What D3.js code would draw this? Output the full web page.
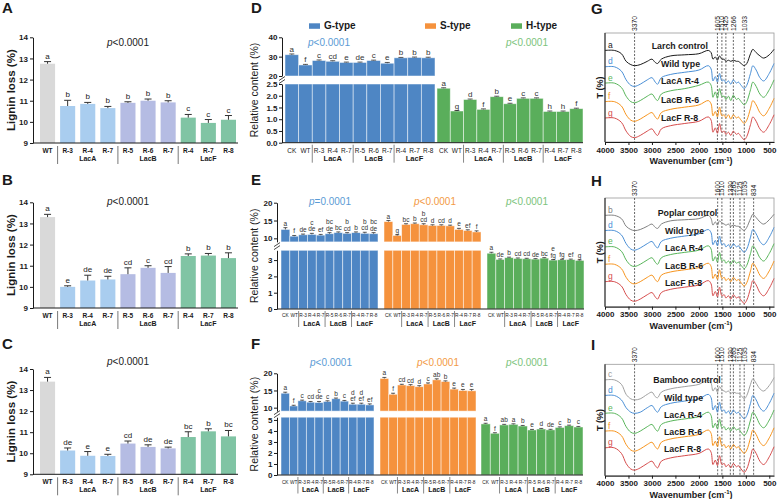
<!DOCTYPE html>
<html>
<head>
<meta charset="utf-8">
<script src="https://cdn.jsdelivr.net/npm/d3@7"></script>
<style>
  body { margin: 0; background: #fff; }
  svg { display: block; font-family: "Liberation Sans", Arial, sans-serif; }
</style>
</head>
<body>
<script>
// ---------------- Data ----------------

// A-C: lignin loss
const lossLabels = ["WT", "R-3", "R-4", "R-7", "R-5", "R-6", "R-7", "R-4", "R-7", "R-8"];
const lossGroups = ["WT", "LacA", "LacA", "LacA", "LacB", "LacB", "LacB", "LacF", "LacF", "LacF"];
const larchLoss = [12.75, 10.75, 10.85, 10.65, 10.9, 11.0, 10.92, 10.2, 9.95, 10.1];
const larchErr = [0.1, 0.27, 0.07, 0.08, 0.05, 0.08, 0.08, 0.15, 0.16, 0.2];
const larchLet = ["a", "b", "b", "b", "b", "b", "b", "c", "c", "c"];
const poplarLoss = [13.3, 10.0, 10.3, 10.35, 10.6, 10.9, 10.66, 11.46, 11.48, 11.36];
const poplarErr = [0.13, 0.05, 0.25, 0.15, 0.3, 0.1, 0.3, 0.1, 0.1, 0.25];
const poplarLet = ["a", "e", "de", "de", "cd", "c", "cd", "b", "b", "b"];
const bambooLoss = [13.4, 10.13, 9.88, 9.87, 10.46, 10.3, 10.23, 10.77, 11.04, 10.8];
const bambooErr = [0.2, 0.12, 0.2, 0.08, 0.12, 0.1, 0.06, 0.25, 0.12, 0.28];
const bambooLet = ["a", "de", "e", "e", "cd", "de", "de", "bc", "b", "bc"];

// D-F: relative content of G/S/H units
const compLabels = ["CK", "WT", "R-3", "R-4", "R-7", "R-5", "R-6", "R-7", "R-4", "R-7", "R-8"];
const compGroups = ["CK", "WT", "LacA", "LacA", "LacA", "LacB", "LacB", "LacB", "LacF", "LacF", "LacF"];

const larchG = [31.0, 25.7, 28.0, 27.6, 27.0, 27.0, 28.0, 26.6, 29.4, 29.6, 29.4];
const larchGErr = [0.4, 0.3, 0.3, 0.3, 0.2, 0.2, 0.2, 0.4, 0.2, 0.2, 0.3];
const larchGLet = ["a", "f", "c", "cd", "e", "de", "c", "e", "b", "b", "b"];
const larchH = [2.32, 1.35, 1.84, 1.42, 1.96, 1.66, 1.89, 1.89, 1.33, 1.33, 1.45];
const larchHErr = [0.02, 0.02, 0.02, 0.02, 0.02, 0.02, 0.02, 0.02, 0.02, 0.02, 0.02];
const larchHLet = ["a", "g", "d", "f", "b", "e", "c", "c", "h", "h", "f"];

const poplarG = [12.5, 10.6, 11.0, 11.1, 10.9, 11.3, 11.6, 11.4, 11.6, 11.4, 11.3];
const poplarGErr = [0.5, 0.2, 0.2, 0.3, 0.2, 0.3, 0.2, 0.2, 0.2, 0.3, 0.3];
const poplarGLet = ["a", "f", "de", "c\nde", "ef", "bc\nde", "bc", "b\ncd", "b", "b\ncd", "bc\nde"];
const poplarS = [14.7, 10.8, 13.9, 14.1, 13.8, 13.6, 13.6, 13.5, 12.5, 12.2, 11.8];
const poplarSErr = [0.3, 0.2, 0.2, 0.2, 0.3, 0.2, 0.2, 0.2, 0.3, 0.2, 0.3];
const poplarSLet = ["a", "g", "bc", "b", "b\ncd", "d", "cd", "d", "e", "ef", "f"];
const poplarH = [3.42, 3.04, 3.15, 3.1, 3.08, 3.06, 3.12, 3.0, 3.02, 3.03, 2.98];
const poplarHErr = [0.06, 0.03, 0.03, 0.03, 0.03, 0.03, 0.03, 0.03, 0.03, 0.03, 0.03];
const poplarHLet = ["a", "de", "b", "cd", "cd", "de", "bc", "e\nfg", "fg", "ef", "g"];

const bambooG = [14.2, 10.5, 12.0, 11.6, 11.5, 11.8, 12.6, 11.9, 11.0, 11.0, 10.8];
const bambooGErr = [0.3, 0.2, 0.2, 0.2, 0.3, 0.2, 0.2, 0.2, 0.3, 0.3, 0.3];
const bambooGLet = ["a", "f", "c", "cd", "c\nde", "c", "b", "c", "d\nef", "d\nef", "ef"];
const bambooS = [18.5, 13.9, 16.6, 16.4, 16.1, 16.9, 18.1, 17.6, 15.4, 15.0, 14.9];
const bambooSErr = [0.3, 0.3, 0.2, 0.3, 0.3, 0.3, 0.3, 0.2, 0.3, 0.3, 0.4];
const bambooSLet = ["a", "f", "cd", "cd", "d", "c", "ab", "b", "e", "e", "e"];
const bambooH = [4.64, 3.79, 4.55, 4.6, 4.45, 4.09, 4.18, 4.1, 4.32, 4.48, 4.36];
const bambooHErr = [0.06, 0.05, 0.05, 0.05, 0.05, 0.05, 0.05, 0.05, 0.05, 0.05, 0.05];
const bambooHLet = ["a", "f", "ab", "a", "b", "e", "d", "de", "c", "b", "c"];

// G-I: FTIR spectra
const waveNums = [4000, 3800, 3650, 3550, 3450, 3370, 3250, 3100, 3000, 2930, 2880, 2800, 2600, 2300, 2000, 1800, 1740, 1700, 1650, 1605, 1560, 1510, 1460, 1425, 1370, 1320, 1266, 1200, 1160, 1100, 1033, 980, 900, 850, 780, 700, 620, 500, 400];
const waveTicks = [4000, 3500, 3000, 2500, 2000, 1500, 1000, 500];

const larchCtrl = [84, 84, 81, 74, 71, 70, 71, 74, 76, 73, 72, 76, 79, 80, 81, 84, 82, 76, 78, 75, 79, 76, 76, 74, 75, 74, 75, 74, 74, 72, 70, 72, 81, 85, 82, 79, 77, 80, 85];
const larchWT = [69, 69, 65, 57, 52, 51, 53, 57, 59, 55, 53, 59, 62, 64, 66, 70, 67, 56, 60, 55, 63, 56, 57, 54, 56, 53, 57, 54, 55, 52, 49, 52, 63, 70, 66, 59, 56, 63, 72];
const larchA4 = [54, 54, 50, 42, 37, 36, 38, 42, 44, 40, 38, 44, 47, 49, 52, 55, 52, 41, 46, 40, 49, 42, 42, 39, 42, 38, 43, 39, 40, 37, 34, 37, 48, 55, 51, 44, 41, 48, 57];
const larchB6 = [37, 37, 33, 25, 20, 19, 21, 25, 27, 23, 21, 27, 30, 32, 34, 38, 35, 24, 28, 23, 32, 24, 25, 22, 25, 21, 25, 22, 23, 20, 17, 20, 31, 38, 34, 27, 24, 31, 40];
const larchF8 = [22, 22, 18, 10, 5, 4, 6, 10, 12, 8, 6, 12, 15, 17, 19, 23, 20, 9, 13, 8, 17, 9, 10, 7, 9, 6, 10, 7, 8, 5, 2, 5, 16, 23, 19, 12, 9, 16, 25];

const poplarCtrl = [84, 84, 81, 74, 71, 70, 71, 74, 76, 73, 72, 76, 79, 80, 81, 84, 81, 75, 78, 75, 79, 77, 76, 75, 76, 74, 75, 74, 74, 72, 70, 73, 81, 85, 82, 78, 76, 80, 85];
const poplarWT = [70, 70, 66, 58, 53, 52, 54, 58, 60, 56, 54, 60, 63, 65, 67, 71, 68, 57, 61, 56, 65, 57, 58, 55, 57, 54, 58, 55, 56, 53, 50, 53, 64, 71, 67, 60, 57, 64, 73];
const poplarA4 = [55, 55, 51, 43, 38, 37, 39, 43, 45, 41, 39, 45, 48, 50, 52, 56, 53, 42, 46, 41, 50, 42, 43, 40, 42, 39, 43, 40, 41, 38, 35, 38, 49, 56, 52, 45, 42, 49, 58];
const poplarB6 = [39, 39, 35, 27, 22, 21, 23, 27, 29, 25, 23, 29, 32, 34, 36, 40, 37, 26, 30, 25, 34, 26, 27, 24, 26, 23, 27, 24, 25, 22, 19, 22, 33, 40, 36, 29, 26, 33, 42];
const poplarF8 = [23, 23, 19, 11, 6, 5, 7, 11, 13, 9, 7, 13, 16, 18, 20, 24, 21, 10, 14, 9, 18, 10, 11, 8, 10, 7, 11, 8, 9, 6, 3, 6, 17, 24, 20, 13, 10, 17, 26];

const bambooCtrl = [86, 86, 82, 73, 69, 68, 69, 73, 75, 71, 70, 75, 78, 80, 82, 86, 83, 76, 79, 75, 80, 77, 76, 75, 76, 74, 75, 74, 74, 72, 69, 72, 82, 87, 83, 78, 76, 81, 88];
const bambooWT = [72, 72, 68, 61, 57, 56, 57, 61, 63, 59, 57, 62, 65, 67, 69, 73, 70, 59, 63, 57, 66, 58, 59, 56, 58, 55, 59, 56, 57, 54, 51, 54, 65, 72, 68, 61, 58, 65, 74];
const bambooA4 = [56, 56, 52, 44, 39, 38, 40, 44, 46, 42, 40, 46, 49, 51, 53, 57, 54, 43, 47, 42, 51, 43, 44, 41, 43, 40, 44, 41, 42, 39, 36, 39, 50, 57, 53, 46, 43, 50, 59];
const bambooB6 = [40, 40, 36, 28, 23, 22, 24, 28, 30, 26, 24, 30, 33, 35, 37, 41, 38, 27, 31, 26, 35, 27, 28, 25, 27, 24, 28, 25, 26, 23, 20, 23, 34, 41, 37, 30, 27, 34, 43];
const bambooF8 = [25, 25, 20, 11, 6, 5, 7, 11, 13, 9, 7, 13, 16, 18, 20, 24, 21, 10, 14, 9, 18, 10, 11, 8, 10, 7, 11, 8, 9, 6, 3, 6, 17, 24, 20, 13, 10, 17, 26];

const larchBands = [3370, 1605, 1510, 1425, 1266, 1033];
const hardwoodBands = [3370, 1600, 1510, 1330, 1265, 1125, 1035, 834];
const specNames = ["Wild type", "LacA R-4", "LacB R-6", "LacF R-8"];
const specLetters = ["d", "e", "f", "g"];

// ---------------- Setup ----------------

const ink = "#1a1a1a";
const blue = "#4e86c4", orange = "#f5923d", green = "#5aae5b";
const lossFill = { WT: "#d9d9d9", LacA: "#a9cdef", LacB: "#b5bce3", LacF: "#80c4a4" };

const svg = d3.select("body").append("svg")
    .attr("width", 777)
    .attr("height", 499);

const panelLetter = (t, x, y) => svg.append("text")
    .attr("x", x).attr("y", y)
    .attr("font-size", 15).attr("font-weight", "bold").attr("fill", ink)
    .text(t);

const pText = (g, x, y, str, color, size) => {
    const t = g.append("text").attr("x", x).attr("y", y)
        .attr("text-anchor", "middle").attr("font-size", size).attr("fill", color);
    t.append("tspan").attr("font-style", "italic").text(str[0]);
    t.append("tspan").text(str.slice(1));
};

const styleAxis = (ax, fs) => {
    ax.attr("font-family", null).attr("font-size", null);
    ax.selectAll("text").attr("font-size", fs).attr("font-weight", "bold").attr("fill", ink);
    ax.selectAll("line,path").attr("stroke", ink);
};

// ---------------- A-C: lignin loss ----------------

function lossPanel(vals, errs, lets, yTop, yBot, pY) {
    const g = svg.append("g");
    const x = d3.scaleBand().domain(d3.range(vals.length)).range([38, 238]).paddingInner(0.25).paddingOuter(0.1);
    const y = d3.scaleLinear().domain([9, 14]).range([yBot, yTop]);
    const bw = x.bandwidth();
    const cx = i => x(i) + bw / 2;

    g.selectAll("rect").data(vals).join("rect")
        .attr("x", (d, i) => x(i)).attr("width", bw)
        .attr("y", d => y(d)).attr("height", d => y(9) - y(d))
        .attr("fill", (d, i) => lossFill[lossGroups[i]]);

    g.selectAll(".eb").data(vals).join("path").attr("class", "eb")
        .attr("d", (d, i) => `M${cx(i)},${y(d)}V${y(d + errs[i])}M${cx(i) - 3.5},${y(d + errs[i])}H${cx(i) + 3.5}`)
        .attr("stroke", "#333").attr("fill", "none");

    g.selectAll(".let").data(lets).join("text").attr("class", "let")
        .attr("x", (d, i) => cx(i)).attr("y", (d, i) => y(vals[i] + errs[i]) - 3)
        .attr("text-anchor", "middle").attr("font-size", 8).attr("fill", ink)
        .text(d => d);

    const ax = g.append("g").attr("transform", "translate(33,0)")
        .call(d3.axisLeft(y).ticks(5).tickSize(3).tickSizeOuter(0).tickPadding(2));
    styleAxis(ax, 8);

    const y0 = y(9);
    g.append("line").attr("x1", 33).attr("x2", 238).attr("y1", y0).attr("y2", y0).attr("stroke", ink);

    g.selectAll(".cat").data(lossLabels).join("text").attr("class", "cat")
        .attr("x", (d, i) => cx(i)).attr("y", y0 + 9.5)
        .attr("text-anchor", "middle").attr("font-size", 6.5).attr("font-weight", "bold").attr("fill", ink)
        .text(d => d);

    const groups = ["LacA", "LacB", "LacF"];
    groups.forEach(gr => {
        const idx = d3.range(vals.length).filter(i => lossGroups[i] === gr);
        g.append("text").attr("x", d3.mean(idx, cx)).attr("y", y0 + 18)
            .attr("text-anchor", "middle").attr("font-size", 7).attr("font-weight", "bold").attr("fill", ink)
            .text(gr);
        const sx = x(idx[0]) - x.step() * 0.125;
        g.append("line").attr("x1", sx).attr("x2", sx).attr("y1", y0 + 3).attr("y2", y0 + 21)
            .attr("stroke", "#555").attr("stroke-width", 0.8);
    });

    pText(g, 128, pY, "p<0.0001", ink, 10);

    g.append("text")
        .attr("transform", `translate(14.5,${(yTop + yBot) / 2}) rotate(-90)`)
        .attr("text-anchor", "middle").attr("font-size", 11.5).attr("font-weight", "bold").attr("fill", ink)
        .text("Lignin loss (%)");
}

panelLetter("A", 2, 13);
lossPanel(larchLoss, larchErr, larchLet, 37.3, 143, 46);
panelLetter("B", 2, 185);
lossPanel(poplarLoss, poplarErr, poplarLet, 202.3, 308, 205);
panelLetter("C", 2, 349);
lossPanel(bambooLoss, bambooErr, bambooLet, 369, 474.3, 365);

// ---------------- D-F: relative content ----------------

function compPanel(o) {
    const g = svg.append("g");
    const yu = d3.scaleLinear().domain(o.up.dom).range(o.up.rng);
    const yl = d3.scaleLinear().domain(o.lo.dom).range(o.lo.rng);
    const lmax = o.lo.dom[1], umin = o.up.dom[0];
    const y0 = yl(0);
    let lastX = 0;

    o.series.forEach(s => {
        const x = d3.scaleBand().domain(d3.range(s.v.length)).range([s.x0, s.x1]);
        const bw = x.bandwidth();
        const cx = i => x(i) + bw / 2;
        lastX = s.x1;
        const sg = g.append("g");

        // lower segment
        sg.selectAll(".lo").data(s.v).join("rect").attr("class", "lo")
            .attr("x", (d, i) => x(i)).attr("width", bw)
            .attr("y", d => yl(Math.min(d, lmax))).attr("height", d => y0 - yl(Math.min(d, lmax)))
            .attr("fill", s.c).attr("stroke", "#fff").attr("stroke-opacity", 0.6).attr("stroke-width", 0.8);
        // upper segment
        sg.selectAll(".up").data(s.v.filter(d => d > lmax)).join("rect").attr("class", "up")
            .attr("x", (d, i) => x(i)).attr("width", bw)
            .attr("y", d => yu(d)).attr("height", d => yu(umin) - yu(d))
            .attr("fill", s.c).attr("stroke", "#fff").attr("stroke-opacity", 0.6).attr("stroke-width", 0.8);

        const ytop = (d, i) => d > lmax ? yu(d + s.e[i]) : yl(d + s.e[i]);
        const ybar = d => d > lmax ? yu(d) : yl(d);
        sg.selectAll(".eb").data(s.v).join("path").attr("class", "eb")
            .attr("d", (d, i) => `M${cx(i)},${ybar(d)}V${ytop(d, i)}M${cx(i) - o.cap},${ytop(d, i)}H${cx(i) + o.cap}`)
            .attr("stroke", "#333").attr("stroke-width", 0.8).attr("fill", "none");

        s.l.forEach((lt, i) => {
            const lines = lt.split("\n");
            lines.forEach((ln, k) => {
                sg.append("text").attr("x", cx(i))
                    .attr("y", ytop(s.v[i], i) - 2 - (lines.length - 1 - k) * o.letFs * 0.95)
                    .attr("text-anchor", "middle").attr("font-size", o.letFs).attr("fill", "#333")
                    .text(ln);
            });
        });

        sg.selectAll(".cat").data(compLabels).join("text").attr("class", "cat")
            .attr("x", (d, i) => cx(i)).attr("y", y0 + o.catDy)
            .attr("text-anchor", "middle").attr("font-size", o.catFs).attr("fill", ink)
            .text(d => d);

        ["LacA", "LacB", "LacF"].forEach(gr => {
            const idx = d3.range(s.v.length).filter(i => compGroups[i] === gr);
            sg.append("text").attr("x", d3.mean(idx, cx)).attr("y", y0 + o.grpDy)
                .attr("text-anchor", "middle").attr("font-size", o.grpFs).attr("font-weight", "bold").attr("fill", ink)
                .text(gr);
            sg.append("line").attr("x1", x(idx[0])).attr("x2", x(idx[0]))
                .attr("y1", y0 + 2).attr("y2", y0 + o.grpDy + 1.5)
                .attr("stroke", "#555").attr("stroke-width", 0.7);
        });

        pText(g, s.px, o.pY, "p" + s.p, s.pc, 10);
    });

    const axU = g.append("g").attr("transform", `translate(${o.axisX},0)`)
        .call(d3.axisLeft(yu).tickValues(o.up.ticks).tickSize(3).tickSizeOuter(0).tickPadding(1.5).tickFormat(o.up.fmt));
    styleAxis(axU, 8);
    const axL = g.append("g").attr("transform", `translate(${o.axisX},0)`)
        .call(d3.axisLeft(yl).tickValues(o.lo.ticks).tickSize(3).tickSizeOuter(0).tickPadding(1.5).tickFormat(o.lo.fmt));
    styleAxis(axL, 8);

    // break mark
    const yb = (yu(umin) + yl(lmax)) / 2;
    [-1.5, 1.5].forEach(dy => g.append("line")
        .attr("x1", o.axisX - 3).attr("x2", o.axisX + 3)
        .attr("y1", yb + dy + 2).attr("y2", yb + dy - 2)
        .attr("stroke", ink).attr("stroke-width", 0.8));

    g.append("line").attr("x1", o.axisX).attr("x2", lastX).attr("y1", y0).attr("y2", y0).attr("stroke", ink);

    g.append("text")
        .attr("transform", `translate(258,${(o.up.rng[1] + y0) / 2}) rotate(-90)`)
        .attr("text-anchor", "middle").attr("font-size", 10.5).attr("fill", ink)
        .text("Relative content (%)");
}

panelLetter("D", 251, 13);
compPanel({
    axisX: 282, cap: 2.5, letFs: 8, catFs: 6.5, grpFs: 7.5, catDy: 10, grpDy: 18.5, pY: 45.5,
    up: { dom: [20, 40], rng: [76, 37.3], ticks: [20, 30, 40], fmt: d3.format("d") },
    lo: { dom: [0, 2.5], rng: [142.7, 84], ticks: [0, 0.5, 1, 1.5, 2, 2.5], fmt: d3.format(".1f") },
    series: [
        { v: larchG, e: larchGErr, l: larchGLet, c: blue, x0: 285, x1: 435, p: "<0.0001", pc: "#5b9bd5", px: 329 },
        { v: larchH, e: larchHErr, l: larchHLet, c: green, x0: 437, x1: 583, p: "<0.0001", pc: "#7cc47c", px: 527 }
    ]
});

// legend
const legendItems = [["G-type", blue, 309], ["S-type", orange, 425], ["H-type", green, 511]];
legendItems.forEach(([name, col, lx]) => {
    svg.append("rect").attr("x", lx).attr("y", 23.3).attr("width", 11).attr("height", 5.5).attr("fill", col);
    svg.append("text").attr("x", lx + 15).attr("y", 29).attr("font-size", 10).attr("font-weight", "bold")
        .attr("fill", ink).text(name);
});

panelLetter("E", 251, 185);
compPanel({
    axisX: 277, cap: 2, letFs: 6.5, catFs: 4.8, grpFs: 7, catDy: 7.8, grpDy: 16.5, pY: 204.5,
    up: { dom: [9, 20], rng: [241.9, 202.7], ticks: [10, 15, 20], fmt: d3.format("d") },
    lo: { dom: [0, 3.6], rng: [309, 250.3], ticks: [0, 1, 2, 3], fmt: d3.format("d") },
    series: [
        { v: poplarG, e: poplarGErr, l: poplarGLet, c: blue, x0: 281, x1: 378, p: "=0.0001", pc: "#5b9bd5", px: 330 },
        { v: poplarS, e: poplarSErr, l: poplarSLet, c: orange, x0: 384, x1: 481, p: "<0.0001", pc: "#f39a45", px: 435 },
        { v: poplarH, e: poplarHErr, l: poplarHLet, c: green, x0: 487, x1: 584, p: "<0.0001", pc: "#7cc47c", px: 527 }
    ]
});

panelLetter("F", 251, 349);
compPanel({
    axisX: 277, cap: 2, letFs: 6.5, catFs: 4.8, grpFs: 7, catDy: 8.8, grpDy: 17, pY: 365.5,
    up: { dom: [9, 20], rng: [411.1, 373.3], ticks: [10, 15, 20], fmt: d3.format("d") },
    lo: { dom: [0, 5.25], rng: [475, 417.2], ticks: [0, 1, 2, 3, 4, 5], fmt: d3.format("d") },
    series: [
        { v: bambooG, e: bambooGErr, l: bambooGLet, c: blue, x0: 281, x1: 374, p: "<0.0001", pc: "#5b9bd5", px: 331 },
        { v: bambooS, e: bambooSErr, l: bambooSLet, c: orange, x0: 380, x1: 476, p: "<0.0001", pc: "#f39a45", px: 438 },
        { v: bambooH, e: bambooHErr, l: bambooHLet, c: green, x0: 481, x1: 583, p: "<0.0001", pc: "#7cc47c", px: 527 }
    ]
});

// ---------------- G-I: FTIR ----------------

const specColors = ["#4a8fd6", "#58b55a", "#f7941d", "#d64c4c"];

function specPanel(o) {
    const g = svg.append("g");
    const x = d3.scaleLinear().domain([4000, 400]).range([605, 774]);
    const y = d3.scaleLinear().domain([0, 100]).range([o.bot, o.top]);

    g.append("rect").attr("x", 605).attr("y", o.top).attr("width", 169).attr("height", o.bot - o.top)
        .attr("fill", "none").attr("stroke", "#9a9a9a").attr("stroke-width", 0.8);

    o.bands.forEach(b => {
        g.append("line").attr("x1", x(b)).attr("x2", x(b)).attr("y1", o.top).attr("y2", o.bot)
            .attr("stroke", "#222").attr("stroke-width", 0.7).attr("stroke-dasharray", "2,1.5");
        g.append("text").attr("transform", `translate(${x(b) + 2.4},${o.top - 2}) rotate(-90)`)
            .attr("font-size", 6.8).attr("fill", ink).text(b);
    });

    const line = d3.line().x((d, i) => x(waveNums[i])).y(d => y(d)).curve(d3.curveCatmullRom.alpha(0.5));
    o.curves.forEach((c, k) => {
        g.append("path").datum(c.v).attr("d", line)
            .attr("fill", "none").attr("stroke", c.col).attr("stroke-width", 1);
        g.append("text").attr("x", 608).attr("y", y(c.v[0]) - 2.5)
            .attr("font-size", 8.5).attr("fill", c.col).text(c.letter);
        g.append("text").attr("x", o.nameX[k]).attr("y", o.nameY[k])
            .attr("font-size", 8.8).attr("font-weight", "bold").attr("fill", ink).text(c.name);
    });

    const ax = g.append("g").attr("transform", `translate(0,${o.bot})`)
        .call(d3.axisBottom(x).tickValues(waveTicks).tickFormat(d3.format("d"))
            .tickSize(3).tickSizeOuter(0).tickPadding(2));
    styleAxis(ax, 8);
    g.append("line").attr("x1", 605).attr("x2", 605).attr("y1", o.top).attr("y2", o.bot).attr("stroke", ink);

    const t = g.append("text").attr("x", 691).attr("y", o.bot + 22)
        .attr("text-anchor", "middle").attr("font-size", 9).attr("font-weight", "bold").attr("fill", ink);
    t.append("tspan").text("Wavenumber (cm");
    t.append("tspan").attr("font-size", 6).attr("dy", -3.5).text("-1");
    t.append("tspan").attr("dy", 3.5).text(")");

    g.append("text")
        .attr("transform", `translate(602.5,${(o.top + o.bot) / 2}) rotate(-90)`)
        .attr("text-anchor", "middle").attr("font-size", 9).attr("font-weight", "bold").attr("fill", ink)
        .text("T (%)");
}

const mkCurves = (ctrlName, ctrlLetter, ctrlCol, arrs) =>
    [{ name: ctrlName, letter: ctrlLetter, col: ctrlCol, v: arrs[0] }]
        .concat(specNames.map((n, i) => ({ name: n, letter: specLetters[i], col: specColors[i], v: arrs[i + 1] })));

panelLetter("G", 591, 14);
specPanel({
    top: 33, bot: 142, bands: larchBands,
    curves: mkCurves("Larch control", "a", "#1a1a1a", [larchCtrl, larchWT, larchA4, larchB6, larchF8]),
    nameX: [651.7, 661, 661, 661, 661], nameY: [49, 66.8, 84.2, 102.8, 120.8]
});
panelLetter("H", 591, 185.5);
specPanel({
    top: 198, bot: 306.7, bands: hardwoodBands,
    curves: mkCurves("Poplar control", "b", "#808080", [poplarCtrl, poplarWT, poplarA4, poplarB6, poplarF8]),
    nameX: [657.7, 665, 665, 665, 665], nameY: [215.8, 233.5, 250.8, 268.5, 285.8]
});
panelLetter("I", 591, 350);
specPanel({
    top: 364.3, bot: 475.7, bands: hardwoodBands,
    curves: mkCurves("Bamboo control", "c", "#a0a0a0", [bambooCtrl, bambooWT, bambooA4, bambooB6, bambooF8]),
    nameX: [653.3, 664, 664, 664, 664], nameY: [382.5, 400.8, 417.8, 434.5, 452.2]
});
</script>
</body>
</html>
